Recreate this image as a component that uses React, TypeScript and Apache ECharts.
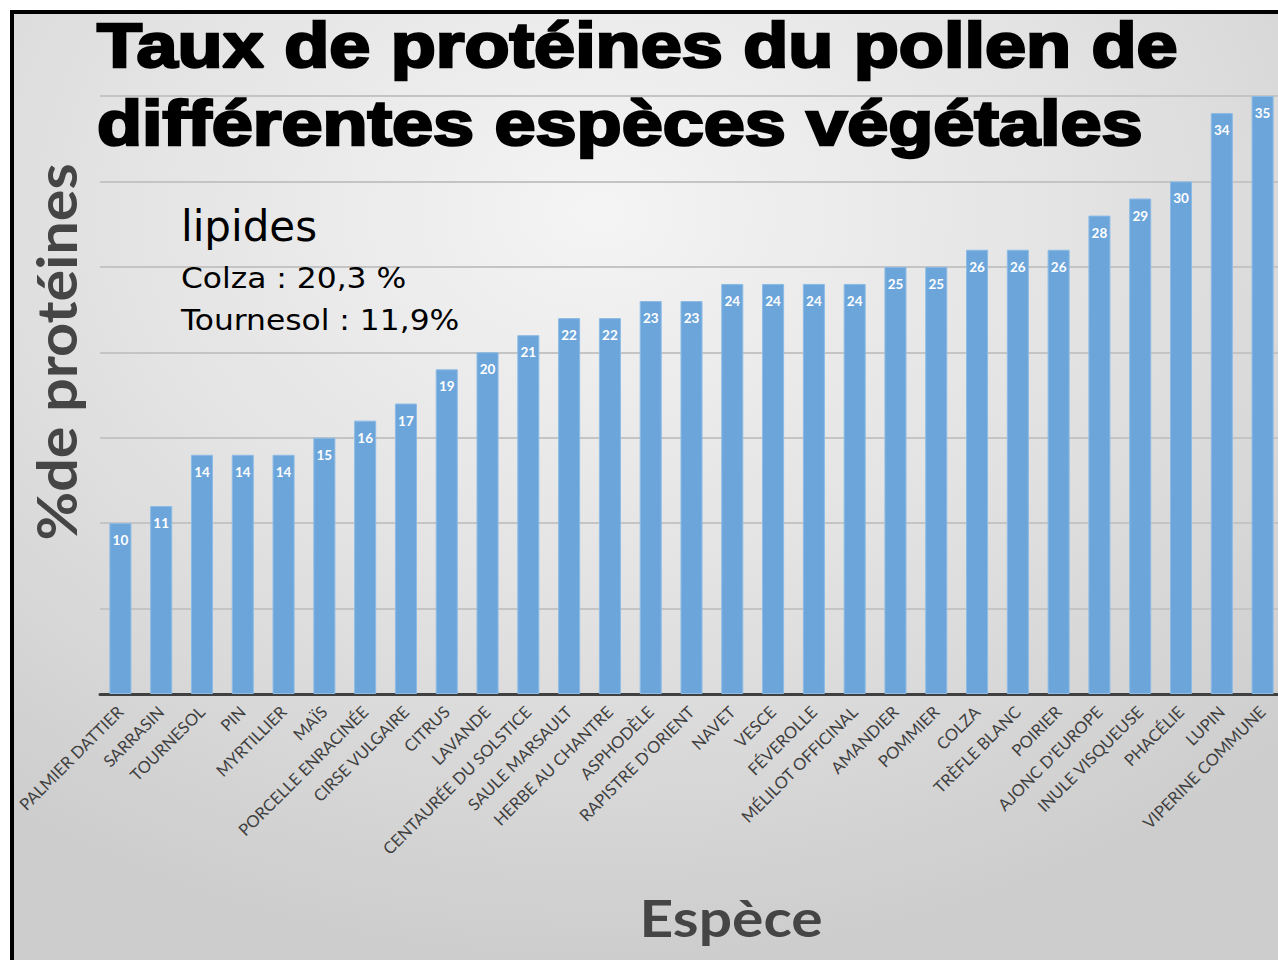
import React, { useEffect, useRef } from "react";
import * as echarts from "echarts";

const categories = [
  "PALMIER DATTIER", "SARRASIN", "TOURNESOL", "PIN", "MYRTILLIER", "MAÏS",
  "PORCELLE ENRACINÉE", "CIRSE VULGAIRE", "CITRUS", "LAVANDE",
  "CENTAURÉE DU SOLSTICE", "SAULE MARSAULT", "HERBE AU CHANTRE", "ASPHODÈLE",
  "RAPISTRE D'ORIENT", "NAVET", "VESCE", "FÉVEROLLE", "MÉLILOT OFFICINAL",
  "AMANDIER", "POMMIER", "COLZA", "TRÈFLE BLANC", "POIRIER", "AJONC D'EUROPE",
  "INULE VISQUEUSE", "PHACÉLIE", "LUPIN", "VIPERINE COMMUNE",
];
const proteinValues = [
  10, 11, 14, 14, 14, 15, 16, 17, 19, 20, 21, 22, 22, 23, 23, 24, 24, 24, 24,
  25, 25, 26, 26, 26, 28, 29, 30, 34, 35,
];
const titleLines = ["Taux de protéines du pollen de", "différentes espèces végétales"];
const noteLines = ["lipides", "Colza : 20,3 %", "Tournesol : 11,9%"];
const yAxisTitle = "%de protéines";
const xAxisTitle = "Espèce";

export default function App() {
  const ref = useRef<HTMLDivElement>(null);
  useEffect(() => {
    document.body.style.margin = "0";
    document.body.style.overflow = "hidden";
    const chart = echarts.init(ref.current!, null, { renderer: "svg" });
    chart.setOption({
      animation: false,
      grid: { left: 100, right: -5, top: 96, bottom: 266, outerBoundsMode: "none", containLabel: false },
      xAxis: {
        type: "category",
        data: categories,
        axisLine: { lineStyle: { color: "#404040", width: 3 } },
        axisTick: { show: false },
        axisLabel: {
          rotate: 45,
          interval: 0,
          fontSize: 16.5,
          color: "#404040",
          fontFamily: "Lato",
          margin: 15,
        },
      },
      yAxis: {
        type: "value",
        min: 0,
        max: 35,
        interval: 5,
        axisLabel: { show: false },
        axisLine: { show: false },
        axisTick: { show: false },
        splitLine: { lineStyle: { color: "#c4c4c4", width: 2 } },
      },
      series: [
        {
          type: "bar",
          data: proteinValues,
          barCategoryGap: "46%",
          itemStyle: { color: "#6ca5da", borderColor: "#8bbbe6", borderWidth: 1 },
          label: {
            show: true,
            position: "insideTop",
            distance: 10,
            color: "#ffffff",
            fontSize: 13.5,
            fontWeight: "bold",
            fontFamily: "Lato",
          },
        },
      ],
      graphic: [
        {
          type: "rect",
          z: -10,
          silent: true,
          shape: { x: 12, y: 12, width: 1300, height: 1000 },
          style: {
            fill: {
              type: "radial",
              x: 0.45,
              y: 0.2,
              r: 0.75,
              colorStops: [
                { offset: 0, color: "#f4f4f4" },
                { offset: 0.5, color: "#e3e3e3" },
                { offset: 1, color: "#cdcdcd" },
              ],
            },
            stroke: "#000000",
            lineWidth: 4,
          },
        },
        {
          type: "text",
          z: 10,
          x: 97,
          y: 6,
          scaleX: 1.19,
          style: {
            text: titleLines.join("\n"),
            font: "bold 62px 'Liberation Sans', Arial, sans-serif",
            lineHeight: 78,
            fill: "#000000",
            stroke: "#000000",
            lineWidth: 2.5,
          },
        },
        {
          type: "text",
          z: 10,
          x: 181,
          y: 205,
          style: {
            text: noteLines[0],
            font: "42px 'DejaVu Sans', sans-serif",
            fill: "#000000",
          },
        },
        {
          type: "text",
          z: 10,
          x: 181,
          y: 263,
          scaleX: 1.08,
          style: {
            text: noteLines[1],
            font: "29px 'DejaVu Sans', sans-serif",
            fill: "#000000",
          },
        },
        {
          type: "text",
          z: 10,
          x: 181,
          y: 305,
          scaleX: 1.08,
          style: {
            text: noteLines[2],
            font: "29px 'DejaVu Sans', sans-serif",
            fill: "#000000",
          },
        },
        {
          type: "text",
          z: 10,
          x: 56,
          y: 352,
          rotation: Math.PI / 2,
          scaleX: 1.08,
          style: {
            text: yAxisTitle,
            font: "bold 55px Lato, sans-serif",
            fill: "#454545",
            textAlign: "center",
            textVerticalAlign: "middle",
          },
        },
        {
          type: "text",
          z: 10,
          x: 731,
          y: 917,
          scaleX: 1.13,
          style: {
            text: xAxisTitle,
            font: "bold 52px Lato, sans-serif",
            fill: "#454545",
            textAlign: "center",
            textVerticalAlign: "middle",
          },
        },
      ],
    });
    return () => chart.dispose();
  }, []);
  return <div ref={ref} style={{ width: 1278, height: 960, position: "absolute", left: 0, top: 0 }} />;
}
